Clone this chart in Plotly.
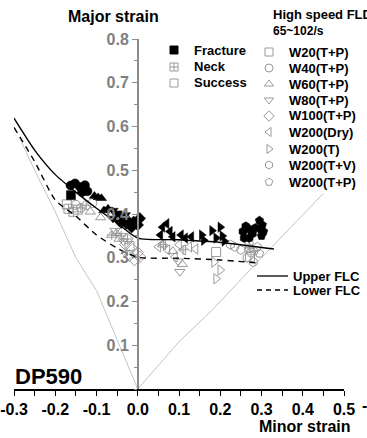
import plotly.graph_objects as go

# ---------------- data ----------------
x_tick_vals = [-0.3, -0.2, -0.1, 0.0, 0.1, 0.2, 0.3, 0.4, 0.5]
x_tick_text = ["-0.3", "-0.2", "-0.1", "0.0", "0.1", "0.2", "0.3", "0.4", "0.5"]
y_tick_vals = [0.1, 0.2, 0.3, 0.4, 0.5, 0.6, 0.7, 0.8]
y_tick_text = ["0.1", "0.2", "0.3", "0.4", "0.5", "0.6", "0.7", "0.8"]

upper_flc_minor = [-0.30, -0.25, -0.20, -0.15, -0.10, -0.05, 0.00, 0.10, 0.20, 0.33]
upper_flc_major = [0.619, 0.546, 0.490, 0.450, 0.413, 0.379, 0.345, 0.341, 0.335, 0.320]
lower_flc_minor = [-0.30, -0.25, -0.20, -0.15, -0.10, -0.05, 0.00, 0.10, 0.20, 0.29]
lower_flc_major = [0.598, 0.520, 0.432, 0.395, 0.352, 0.322, 0.301, 0.299, 0.295, 0.288]

uniaxial_minor = [-0.287, -0.25, -0.20, -0.15, -0.10, -0.05, 0.0]
uniaxial_major = [0.575, 0.500, 0.405, 0.300, 0.225, 0.113, 0.0]
biaxial_minor = [0.0, 0.10, 0.18, 0.30, 0.45]
biaxial_major = [0.0, 0.108, 0.180, 0.300, 0.447]

# (minor, major) points per series and state
w20_fracture = [(-0.162, 0.443)]
w20_neck = [(-0.168, 0.412), (-0.156, 0.405)]
w20_success = [(-0.172, 0.422), (-0.145, 0.410), (-0.020, 0.327), (0.190, 0.313), (0.272, 0.302)]

w40_fracture = [(-0.163, 0.465), (-0.152, 0.470), (-0.140, 0.462), (-0.128, 0.466), (-0.122, 0.452), (-0.135, 0.450)]
w40_neck = [(-0.125, 0.420), (-0.138, 0.414)]
w40_success = [(-0.150, 0.421), (-0.110, 0.425), (0.275, 0.312)]

w60_fracture = [(-0.105, 0.441), (-0.096, 0.438), (-0.088, 0.436), (-0.082, 0.408), (-0.072, 0.412)]
w60_neck = [(-0.063, 0.352), (-0.052, 0.356)]
w60_success = [(-0.115, 0.405), (-0.090, 0.392), (-0.045, 0.343), (0.060, 0.330), (0.085, 0.315), (0.108, 0.285)]

w80_fracture = [(-0.072, 0.410), (-0.060, 0.408), (-0.050, 0.402), (-0.040, 0.395), (-0.030, 0.398),
                (-0.045, 0.382), (-0.028, 0.375), (-0.060, 0.390)]
w80_neck = [(-0.040, 0.350)]
w80_success = [(-0.055, 0.362), (-0.035, 0.338), (0.098, 0.292), (0.102, 0.268)]

w100_fracture = [(-0.040, 0.380), (-0.025, 0.385), (-0.010, 0.382), (0.005, 0.390), (-0.015, 0.370), (0.000, 0.375)]
w100_neck = [(-0.025, 0.343)]
w100_success = [(-0.030, 0.330), (-0.015, 0.322), (0.000, 0.312), (0.005, 0.302), (-0.008, 0.295), (-0.020, 0.305)]

dry_fracture = [(0.055, 0.352), (0.060, 0.370), (0.070, 0.378), (0.078, 0.360), (0.085, 0.348),
                (0.105, 0.352), (0.115, 0.345), (0.130, 0.348)]
dry_neck = [(0.062, 0.330), (0.110, 0.318)]
dry_success = [(0.050, 0.325), (0.072, 0.318), (0.100, 0.330), (0.125, 0.325), (0.140, 0.320), (0.090, 0.302)]

t_fracture = [(0.155, 0.352), (0.160, 0.340), (0.180, 0.362), (0.190, 0.345), (0.200, 0.370), (0.205, 0.350), (0.210, 0.338)]
t_neck = []
t_success = [(0.185, 0.290), (0.200, 0.272), (0.190, 0.252)]

tv_fracture = [(0.255, 0.360), (0.262, 0.372), (0.270, 0.365), (0.278, 0.355), (0.285, 0.368), (0.258, 0.345), (0.270, 0.345)]
tv_neck = [(0.270, 0.322)]
tv_success = [(0.225, 0.330), (0.235, 0.325), (0.250, 0.318), (0.265, 0.300), (0.280, 0.290)]

tp_fracture = [(0.295, 0.385), (0.302, 0.375), (0.298, 0.365), (0.305, 0.360), (0.300, 0.350)]
tp_neck = [(0.282, 0.315)]
tp_success = [(0.290, 0.325), (0.270, 0.332), (0.295, 0.310)]

series_names = ["W20(T+P)", "W40(T+P)", "W60(T+P)", "W80(T+P)", "W100(T+P)",
                "W200(Dry)", "W200(T)", "W200(T+V)", "W200(T+P)"]
state_names = ["Fracture", "Neck", "Success"]

# ---------------- styles ----------------
symbols = ["square", "circle", "triangle-up", "triangle-down", "diamond",
           "triangle-left", "triangle-right", "hexagon", "pentagon"]
series_points = [
    (w20_fracture, w20_neck, w20_success),
    (w40_fracture, w40_neck, w40_success),
    (w60_fracture, w60_neck, w60_success),
    (w80_fracture, w80_neck, w80_success),
    (w100_fracture, w100_neck, w100_success),
    (dry_fracture, dry_neck, dry_success),
    (t_fracture, t_neck, t_success),
    (tv_fracture, tv_neck, tv_success),
    (tp_fracture, tp_neck, tp_success),
]

FONT = "Liberation Sans, Arial, Helvetica, sans-serif"
GRAY = "#9a9a9a"
W, H = 367, 438
PX_L, PX_R, PX_T, PX_B = 14, 344, 39, 389


def px(v):
    return (v - PX_L) / (PX_R - PX_L)


def py(v):
    return (PX_B - v) / (PX_B - PX_T)


def xs(pts):
    return [p[0] for p in pts]


def ys(pts):
    return [p[1] for p in pts]


fig = go.Figure()

# reference strain paths
fig.add_trace(go.Scatter(x=uniaxial_minor, y=uniaxial_major, mode="lines",
                         line=dict(color="#c4c4c4", width=1), showlegend=False, hoverinfo="skip"))
fig.add_trace(go.Scatter(x=biaxial_minor, y=biaxial_major, mode="lines",
                         line=dict(color="#c4c4c4", width=1), showlegend=False, hoverinfo="skip"))

# success and neck markers
for sym, (frac, neck, succ) in zip(symbols, series_points):
    if succ:
        fig.add_trace(go.Scatter(x=xs(succ), y=ys(succ), mode="markers", showlegend=False,
                                 marker=dict(symbol=sym + "-open", size=9, color=GRAY,
                                             line=dict(width=1, color=GRAY))))
    if neck:
        fig.add_trace(go.Scatter(x=xs(neck), y=ys(neck), mode="markers", showlegend=False,
                                 marker=dict(symbol=sym + "-open", size=9, color=GRAY,
                                             line=dict(width=1, color=GRAY))))
        fig.add_trace(go.Scatter(x=xs(neck), y=ys(neck), mode="markers", showlegend=False,
                                 marker=dict(symbol="cross-thin-open", size=7, color=GRAY,
                                             line=dict(width=1, color=GRAY))))

# FLC curves
fig.add_trace(go.Scatter(x=upper_flc_minor, y=upper_flc_major, mode="lines", showlegend=False,
                         line=dict(color="black", width=1.4, shape="spline", smoothing=0.6)))
fig.add_trace(go.Scatter(x=lower_flc_minor, y=lower_flc_major, mode="lines", showlegend=False,
                         line=dict(color="black", width=1.4, dash="6px,5px", shape="spline", smoothing=0.6)))

# fracture markers
for sym, (frac, neck, succ) in zip(symbols, series_points):
    if frac:
        fig.add_trace(go.Scatter(x=xs(frac), y=ys(frac), mode="markers", showlegend=False,
                                 marker=dict(symbol=sym, size=9, color="black",
                                             line=dict(width=0.5, color="black"))))

# ---------------- legend keys (layout, pixel positions) ----------------
state_key_x = 174
state_key_y = [50, 67, 83]
state_text_x = 192
state_symbols = ["square", "square-cross-open", "square-open"]
state_colors = ["black", GRAY, GRAY]
for sy, ssym, scol, name in zip(state_key_y, state_symbols, state_colors, state_names):
    fig.add_trace(go.Scatter(x=[state_key_x], y=[sy], xaxis="x2", yaxis="y2", mode="markers",
                             showlegend=False, hoverinfo="skip",
                             marker=dict(symbol=ssym, size=8, color=scol, line=dict(width=1, color=scol))))

series_key_x = 269
series_text_x = 287
series_key_y = [52, 68, 84, 100, 116, 132, 149, 165, 182]
for sy, sym in zip(series_key_y, symbols):
    fig.add_trace(go.Scatter(x=[series_key_x], y=[sy], xaxis="x2", yaxis="y2", mode="markers",
                             showlegend=False, hoverinfo="skip",
                             marker=dict(symbol=sym + "-open", size=8, color=GRAY,
                                         line=dict(width=1, color=GRAY))))

annotations = []


def label(text, x, y, size, xanchor="left", color="black"):
    annotations.append(dict(text=text, x=px(x), y=py(y), xref="paper", yref="paper",
                            xanchor=xanchor, yanchor="middle", showarrow=False,
                            font=dict(family=FONT, size=size, color=color, weight="bold")))


for sy, name in zip(state_key_y, state_names):
    label(name, state_text_x, sy, 13)
for sy, name in zip(series_key_y, series_names):
    label(name, series_text_x, sy, 13)
label("High speed FLD", 271, 14, 13)
label("65~102/s", 271, 31, 12)
label("Upper FLC", 291, 276, 13)
label("Lower FLC", 291, 290, 13)
label("Major strain", 113, 17, 16, xanchor="center")
label("Minor strain", 305, 426, 16, xanchor="center")
label("DP590", 13, 376, 22)
label("-0.3", 360, 405, 16)

shapes = [
    dict(type="line", xref="paper", yref="paper", x0=px(257), x1=px(288), y0=py(276), y1=py(276),
         line=dict(color="black", width=1.3)),
    dict(type="line", xref="paper", yref="paper", x0=px(257), x1=px(288), y0=py(290), y1=py(290),
         line=dict(color="black", width=1.3, dash="5px,4px")),
]

fig.update_layout(
    width=W, height=H,
    margin=dict(l=PX_L, r=W - PX_R, t=PX_T, b=H - PX_B, pad=0),
    paper_bgcolor="white", plot_bgcolor="white",
    showlegend=False,
    font=dict(family=FONT),
    annotations=annotations,
    shapes=shapes,
    xaxis=dict(range=[-0.3, 0.5], tickmode="array", tickvals=x_tick_vals, ticktext=x_tick_text,
               showgrid=False, zeroline=False, showline=True, linecolor="black", linewidth=1.5,
               ticks="outside", ticklen=5, tickwidth=1.3, tickcolor="black",
               tickfont=dict(family=FONT, size=16, color="black", weight="bold"),
               minor=dict(dtick=0.05, tick0=0, ticks="outside", ticklen=5, tickwidth=1.3, tickcolor="black"),
               anchor="y", automargin=False, fixedrange=True),
    yaxis=dict(range=[0, 0.8], tickmode="array", tickvals=y_tick_vals, ticktext=y_tick_text,
               showgrid=False, zeroline=False, showline=True, linecolor="#8c8c8c", linewidth=1.5,
               ticks="outside", ticklen=5, tickwidth=1.3, tickcolor="#8c8c8c",
               tickfont=dict(family=FONT, size=16, color="#808080", weight="bold"),
               minor=dict(dtick=0.05, tick0=0, ticks="outside", ticklen=3, tickwidth=1.2, tickcolor="#8c8c8c"),
               anchor="free", position=0.375, automargin=False, fixedrange=True),
    xaxis2=dict(range=[PX_L, PX_R], overlaying="x", visible=False, anchor="y2", fixedrange=True),
    yaxis2=dict(range=[PX_B, PX_T], overlaying="y", visible=False, anchor="x2", fixedrange=True),
)

fig.write_html("out.html", config={"displayModeBar": False},
               post_script="document.body.style.margin='0';document.body.style.overflow='hidden';")
